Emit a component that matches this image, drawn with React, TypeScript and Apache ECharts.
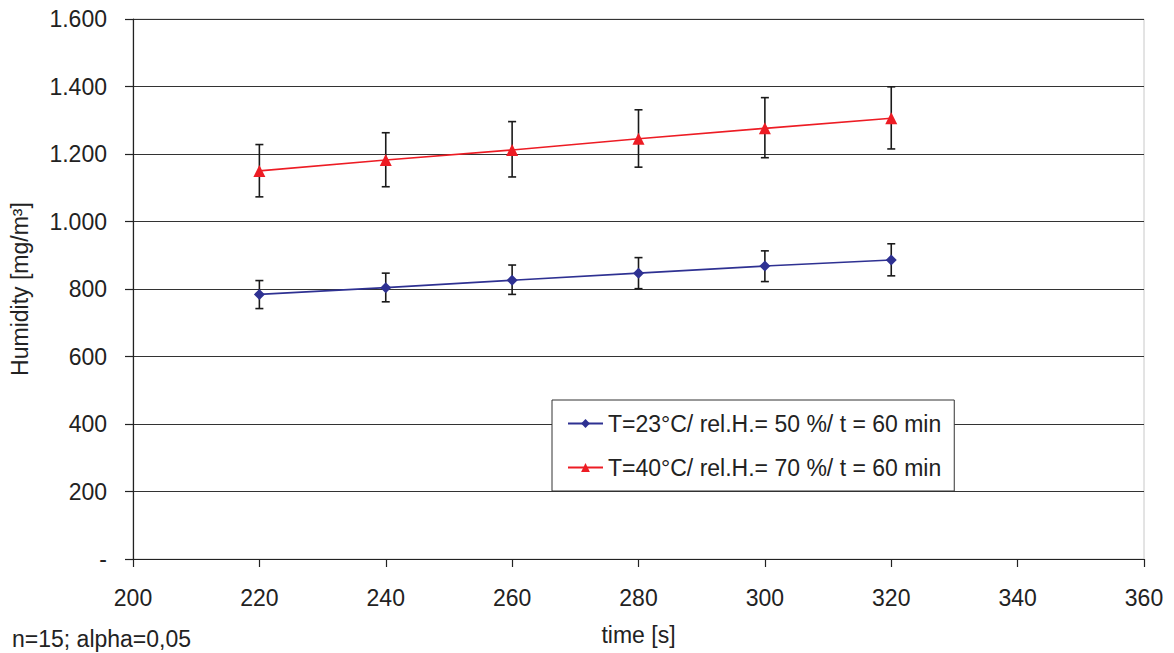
import React, { useEffect, useRef } from "react";
import * as echarts from "echarts";

const times = [220, 240, 260, 280, 300, 320];
const blueMean = [784, 804, 826, 847, 868, 886];
const blueLow = [742, 762, 784, 801, 822, 839];
const blueHigh = [825, 847, 871, 893, 913, 934];
const redMean = [1150, 1182, 1212, 1245, 1276, 1306];
const redLow = [1073, 1103, 1132, 1161, 1189, 1215];
const redHigh = [1228, 1263, 1296, 1331, 1367, 1399];
const blueName = "T=23°C/ rel.H.= 50 %/ t = 60 min";
const redName = "T=40°C/ rel.H.= 70 %/ t = 60 min";
const footnote = "n=15; alpha=0,05";

const FONT = "Liberation Sans, Arial, sans-serif";
const FS = 23;

function errorSeries(name: string, low: number[], high: number[]) {
  return {
    type: "custom",
    name: name + "_err",
    silent: true,
    z: 1,
    data: times.map((t, i) => [t, low[i], high[i]]),
    encode: { x: 0, y: [1, 2] },
    renderItem: (params: any, api: any) => {
      const x = api.value(0);
      const lo = api.coord([x, api.value(1)]);
      const hi = api.coord([x, api.value(2)]);
      const cap = 4;
      const style = { stroke: "#1a1a1a", lineWidth: 1.6 };
      return {
        type: "group",
        children: [
          { type: "line", shape: { x1: lo[0], y1: lo[1], x2: hi[0], y2: hi[1] }, style },
          { type: "line", shape: { x1: hi[0] - cap, y1: hi[1], x2: hi[0] + cap, y2: hi[1] }, style },
          { type: "line", shape: { x1: lo[0] - cap, y1: lo[1], x2: lo[0] + cap, y2: lo[1] }, style },
        ],
      };
    },
  };
}

export default function App() {
  const ref = useRef<HTMLDivElement>(null);
  useEffect(() => {
    const chart = echarts.init(ref.current!, null, { renderer: "svg" });
    chart.setOption({
      animation: false,
      backgroundColor: "#ffffff",
      textStyle: { fontFamily: FONT },
      grid: {
        left: 133,
        right: 30,
        top: 19,
        bottom: 94,
        containLabel: false,
        outerBoundsMode: "none",
        show: true,
        borderColor: "#c8c8c8",
        borderWidth: 1,
        backgroundColor: "transparent",
      },
      xAxis: {
        type: "value",
        min: 200,
        max: 360,
        interval: 20,
        name: "time [s]",
        nameLocation: "middle",
        nameGap: 64,
        nameTextStyle: { fontSize: FS, color: "#222", fontFamily: FONT },
        axisLine: { show: true, onZero: false, lineStyle: { color: "#222", width: 1.2 } },
        axisTick: { show: true, length: 8, inside: false, lineStyle: { color: "#222", width: 1.2 } },
        axisLabel: { fontSize: FS, color: "#222", margin: 27, fontFamily: FONT },
        splitLine: { show: false },
      },
      yAxis: {
        type: "value",
        min: 0,
        max: 1600,
        interval: 200,
        name: "Humidity [mg/m³]",
        nameLocation: "middle",
        nameGap: 102,
        nameTextStyle: { fontSize: FS, color: "#222", fontFamily: FONT },
        axisLine: { show: true, lineStyle: { color: "#222", width: 1.2 } },
        axisTick: { show: true, length: 8, lineStyle: { color: "#222", width: 1.2 } },
        axisLabel: {
          fontSize: FS,
          color: "#222",
          margin: 26,
          fontFamily: FONT,
          formatter: (v: number) => (v === 0 ? "-" : v.toString().replace(/\B(?=(\d{3})+(?!\d))/g, ".")),
        },
        splitLine: { show: true, lineStyle: { color: "#333", width: 1 } },
      },
      legend: {
        orient: "vertical",
        left: 552,
        top: 400,
        data: [blueName, redName],
        backgroundColor: "#ffffff",
        borderColor: "#333",
        borderWidth: 1,
        borderRadius: 0,
        padding: [12, 13, 12, 15],
        itemGap: 21,
        itemWidth: 35,
        itemHeight: 11,
        textStyle: { fontSize: FS, color: "#222", fontFamily: FONT },
      },
      graphic: [
        {
          type: "text",
          left: 12,
          top: 627,
          style: { text: footnote, fontSize: FS, fill: "#222", fontFamily: FONT },
        },
      ],
      series: [
        errorSeries(blueName, blueLow, blueHigh),
        errorSeries(redName, redLow, redHigh),
        {
          type: "line",
          name: blueName,
          data: times.map((t, i) => [t, blueMean[i]]),
          symbol: "diamond",
          symbolSize: 11,
          z: 3,
          itemStyle: { color: "#2e3192" },
          lineStyle: { color: "#2e3192", width: 1.6 },
        },
        {
          type: "line",
          name: redName,
          data: times.map((t, i) => [t, redMean[i]]),
          symbol: "triangle",
          symbolSize: 12,
          z: 3,
          itemStyle: { color: "#ed1c24" },
          lineStyle: { color: "#ed1c24", width: 1.6 },
        },
      ],
    });
    return () => chart.dispose();
  }, []);
  return <div ref={ref} style={{ position: "fixed", left: 0, top: 0, width: 1174, height: 653 }} />;
}
